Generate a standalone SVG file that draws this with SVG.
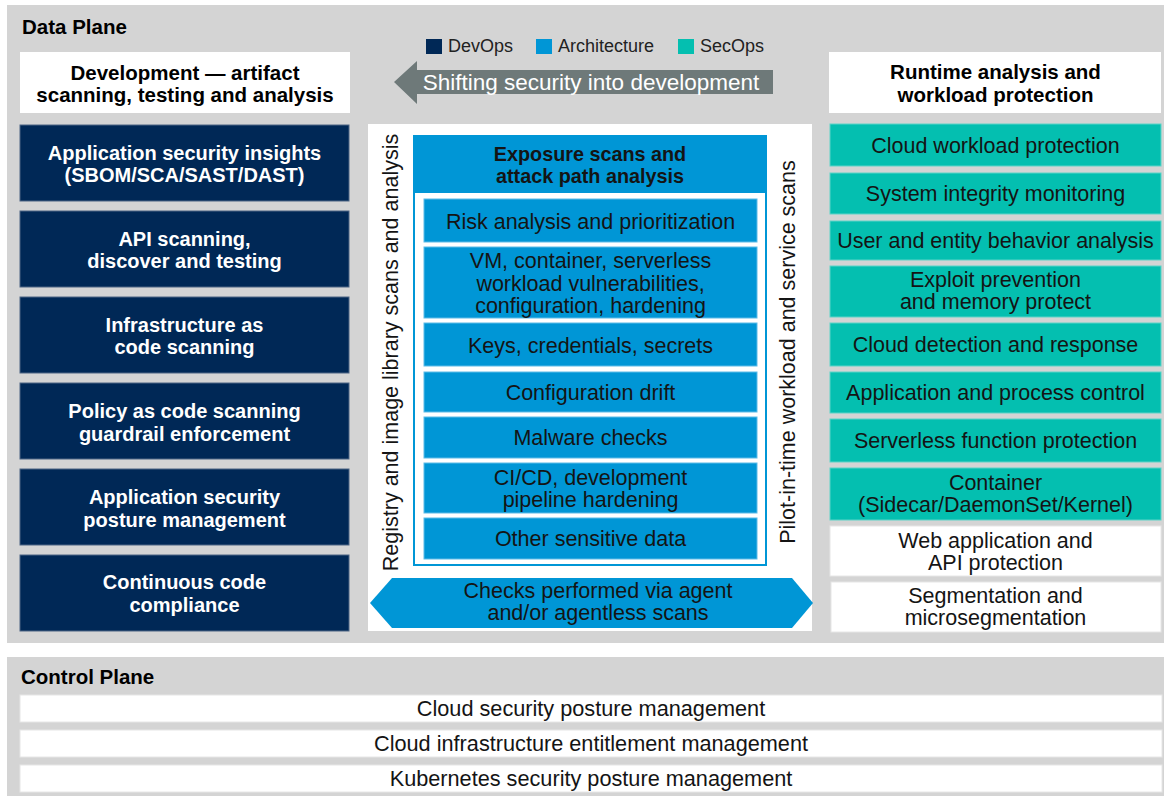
<svg xmlns="http://www.w3.org/2000/svg" width="1164" height="796" viewBox="0 0 1164 796">
<style>
text { font-family: "Liberation Sans", Arial, sans-serif; font-size: 21.5px; fill: #141414; text-anchor: middle; }
.title { font-weight: bold; font-size: 20.5px; text-anchor: start; fill: #000; }
.hdr { font-weight: bold; font-size: 20.5px; fill: #000; }
.dev { fill: #002856; stroke: #4d6584; stroke-width: 1; }
.devt { fill: #fff; font-weight: bold; font-size: 20px; }
.arch { fill: #0096D6; stroke: #5cbbe8; stroke-width: 1; }
.sec { fill: #04BFB0; stroke: #5cd3c8; stroke-width: 1; }
.wbox { fill: #fff; stroke: #e6e6e6; stroke-width: 1; }
.legend { font-size: 18px; text-anchor: start; fill: #222; }
.plane { fill: #D4D4D4; }
.cp { font-size: 21.7px; }
.exp { font-weight: bold; font-size: 19.8px; }
.shift { fill: #fff; font-size: 22.5px; }
</style>

<!-- Planes -->
<rect class="plane" x="7" y="5" width="1157" height="638"/>
<rect class="plane" x="7" y="657" width="1157" height="139"/>
<text class="title" x="22" y="34">Data Plane</text>
<text class="title" x="21" y="684">Control Plane</text>

<!-- Legend -->
<g id="legend">
  <rect x="426" y="39" width="16" height="15" fill="#002856"/>
  <text class="legend" x="448" y="52">DevOps</text>
  <rect x="536" y="39" width="16" height="15" fill="#0096D6"/>
  <text class="legend" x="558" y="52">Architecture</text>
  <rect x="678" y="39" width="16" height="15" fill="#04BFB0"/>
  <text class="legend" x="700" y="52">SecOps</text>
</g>

<!-- Development column -->
<g id="dev-header">
  <rect x="20" y="52" width="330" height="61" fill="#fff"/>
  <text class="hdr" x="185" y="80">Development — artifact</text>
  <text class="hdr" x="185" y="102">scanning, testing and analysis</text>
</g>
<g id="dev-1">
  <rect class="dev" x="20" y="125" width="329" height="76"/>
  <text class="devt" x="184.5" y="159.5">Application security insights</text>
  <text class="devt" x="184.5" y="181.5">(SBOM/SCA/SAST/DAST)</text>
</g>
<g id="dev-2">
  <rect class="dev" x="20" y="211" width="329" height="76"/>
  <text class="devt" x="184.5" y="246">API scanning,</text>
  <text class="devt" x="184.5" y="268">discover and testing</text>
</g>
<g id="dev-3">
  <rect class="dev" x="20" y="297" width="329" height="76"/>
  <text class="devt" x="184.5" y="332">Infrastructure as</text>
  <text class="devt" x="184.5" y="354">code scanning</text>
</g>
<g id="dev-4">
  <rect class="dev" x="20" y="383" width="329" height="76"/>
  <text class="devt" x="184.5" y="418">Policy as code scanning</text>
  <text class="devt" x="184.5" y="441">guardrail enforcement</text>
</g>
<g id="dev-5">
  <rect class="dev" x="20" y="469" width="329" height="76"/>
  <text class="devt" x="184.5" y="504">Application security</text>
  <text class="devt" x="184.5" y="527">posture management</text>
</g>
<g id="dev-6">
  <rect class="dev" x="20" y="555" width="329" height="76"/>
  <text class="devt" x="184.5" y="589">Continuous code</text>
  <text class="devt" x="184.5" y="612">compliance</text>
</g>

<!-- Center panel -->
<g id="center-panel">
  <rect x="368" y="124" width="444" height="507" fill="#fff"/>
  <text transform="rotate(-90 398 352.5)" x="398" y="352.5">Registry and image library scans and analysis</text>
  <text transform="rotate(-90 795 352)" x="795" y="352">Pilot-in-time workload and service scans</text>
</g>
<g id="exposure">
  <rect x="414" y="136" width="352" height="429" fill="#fff" stroke="#0096D6" stroke-width="2"/>
  <rect x="413" y="135" width="354" height="58" fill="#0096D6"/>
  <text class="exp" x="590" y="161">Exposure scans and</text>
  <text class="exp" x="590" y="183">attack path analysis</text>
</g>
<g id="risk">
  <rect class="arch" x="424" y="199" width="333" height="43"/>
  <text x="590.5" y="228.5">Risk analysis and prioritization</text>
</g>
<g id="vm">
  <rect class="arch" x="424" y="247" width="333" height="71"/>
  <text x="590.5" y="268">VM, container, serverless</text>
  <text x="590.5" y="290.5">workload vulnerabilities,</text>
  <text x="590.5" y="313">configuration,  hardening</text>
</g>
<g id="keys">
  <rect class="arch" x="424" y="323" width="333" height="43"/>
  <text x="590.5" y="352.5">Keys, credentials, secrets</text>
</g>
<g id="drift">
  <rect class="arch" x="424" y="372" width="333" height="40"/>
  <text x="590.5" y="399.5">Configuration drift</text>
</g>
<g id="malware">
  <rect class="arch" x="424" y="417" width="333" height="41"/>
  <text x="590.5" y="445">Malware checks</text>
</g>
<g id="cicd">
  <rect class="arch" x="424" y="463" width="333" height="50"/>
  <text x="590.5" y="485">CI/CD, development</text>
  <text x="590.5" y="507">pipeline hardening</text>
</g>
<g id="other">
  <rect class="arch" x="424" y="518" width="333" height="41"/>
  <text x="590.5" y="546">Other sensitive data</text>
</g>

<!-- Runtime column -->
<g id="rt-header">
  <rect x="829" y="52" width="332" height="61" fill="#fff"/>
  <text class="hdr" x="995.5" y="79">Runtime analysis and</text>
  <text class="hdr" x="995.5" y="102">workload protection</text>
</g>
<g id="rt-1"><rect class="sec" x="830" y="124" width="331" height="42"/><text x="995.5" y="153">Cloud workload protection</text></g>
<g id="rt-2"><rect class="sec" x="830" y="173" width="331" height="41"/><text x="995.5" y="201">System integrity monitoring</text></g>
<g id="rt-3"><rect class="sec" x="830" y="221" width="331" height="39"/><text x="995.5" y="248">User and entity behavior analysis</text></g>
<g id="rt-4"><rect class="sec" x="830" y="266" width="331" height="51"/><text x="995.5" y="286.5">Exploit prevention</text><text x="995.5" y="308.5">and memory protect</text></g>
<g id="rt-5"><rect class="sec" x="830" y="323" width="331" height="43"/><text x="995.5" y="352">Cloud detection and response</text></g>
<g id="rt-6"><rect class="sec" x="830" y="372" width="331" height="41"/><text x="995.5" y="400">Application and process control</text></g>
<g id="rt-7"><rect class="sec" x="830" y="419" width="331" height="43"/><text x="995.5" y="448">Serverless function protection</text></g>
<g id="rt-8"><rect class="sec" x="830" y="468" width="331" height="52"/><text x="995.5" y="489.5">Container</text><text x="995.5" y="511.5">(Sidecar/DaemonSet/Kernel)</text></g>
<g id="rt-9"><rect class="wbox" x="830" y="526" width="331" height="50"/><text x="995.5" y="548">Web application and</text><text x="995.5" y="570">API protection</text></g>
<g id="rt-10"><rect class="wbox" x="831" y="582" width="330" height="50"/><text x="995.5" y="603">Segmentation and</text><text x="995.5" y="625">microsegmentation</text></g>

<!-- Control plane bars -->
<g id="cspm"><rect class="wbox" x="20" y="695" width="1142" height="27"/><text class="cp" x="591" y="716">Cloud security posture management</text></g>
<g id="ciem"><rect class="wbox" x="20" y="730" width="1142" height="27"/><text class="cp" x="591" y="751">Cloud infrastructure entitlement management</text></g>
<g id="kspm"><rect class="wbox" x="20" y="765" width="1142" height="27"/><text class="cp" x="591" y="786">Kubernetes security posture management</text></g>

<!-- Connectors / arrows -->
<g id="connectors">
  <g id="shift-arrow">
    <polygon points="394,82 417,61 417,70 773,70 773,94 417,94 417,104" fill="#6E7979"/>
    <text class="shift" x="591" y="89.5">Shifting security into development</text>
  </g>
  <g id="checks-arrow">
    <polygon points="370,603 392,578 792,578 813,603 792,628 392,628" fill="#0096D6"/>
    <text x="598" y="598">Checks performed via agent</text>
    <text x="598" y="620">and/or agentless scans</text>
  </g>
</g>
</svg>
